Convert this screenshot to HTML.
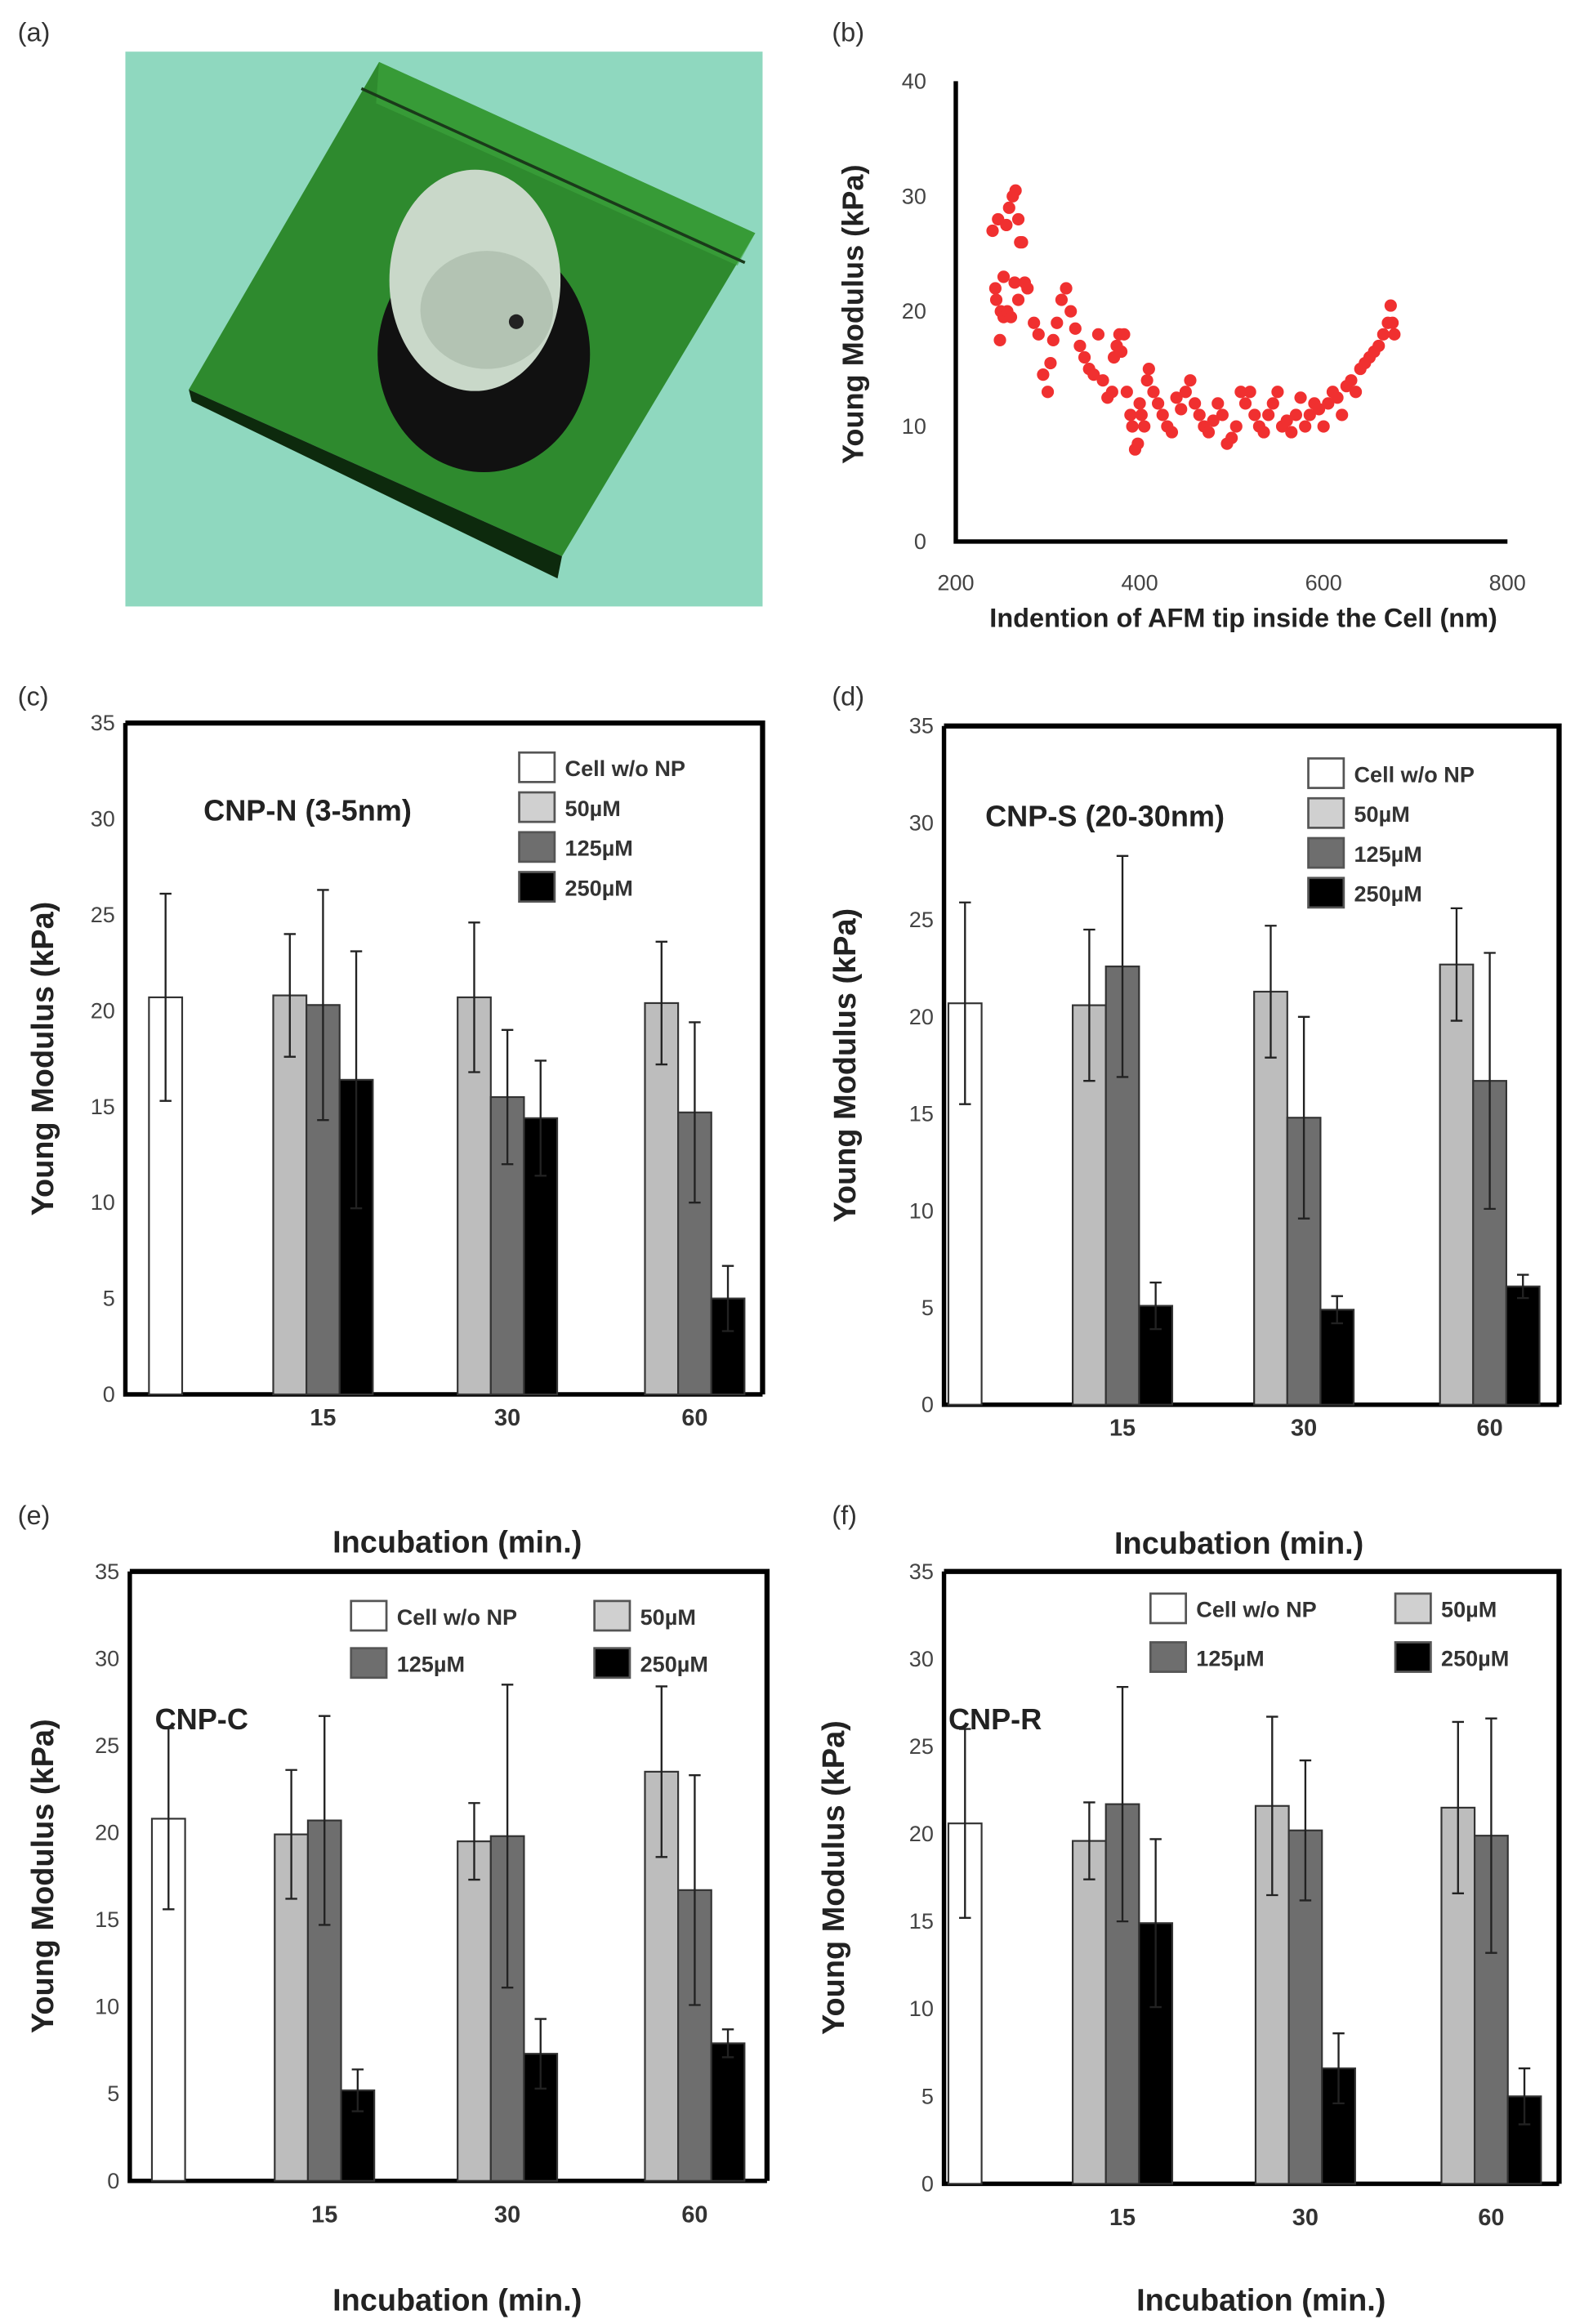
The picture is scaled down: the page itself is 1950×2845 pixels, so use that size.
<!DOCTYPE html>
<html><head><meta charset="utf-8"><style>
html,body{margin:0;padding:0;background:#fff;}
svg{display:block;font-family:"Liberation Sans",sans-serif;}
.tick{font-size:15px;fill:#444;}
.bold{font-weight:bold;fill:#222;}
</style></head><body>
<svg id="fig" width="1950" height="2845" viewBox="0 0 1080 1575" preserveAspectRatio="none" xmlns="http://www.w3.org/2000/svg">
<g>
<text x="12" y="28" font-size="18" fill="#333">(a)</text>
<rect x="85" y="35" width="432" height="376" fill="#8fd8bf"/>
<polygon points="257,42 512,158 381,377 128,264" fill="#2e8a2e"/>
<polygon points="257,42 512,158 500,180 255,70" fill="#3da63d" opacity="0.6"/>
<path d="M245,60 L505,178" stroke="#1a3a1a" stroke-width="2" fill="none"/>
<polygon points="128,264 381,377 378,392 130,272" fill="#0d2a0d"/>
<ellipse cx="328" cy="240" rx="72" ry="80" fill="#111"/>
<ellipse cx="322" cy="190" rx="58" ry="75" fill="#c9d8c9"/>
<ellipse cx="330" cy="210" rx="45" ry="40" fill="#a9bba9" opacity="0.7"/>
<circle cx="350" cy="218" r="5" fill="#222"/>
</g>
<g>
<text x="564" y="28" font-size="18" fill="#333">(b)</text>
<g id="b"></g>
</g>
<g id="c"></g><g id="d"></g><g id="e"></g><g id="f"></g>
</svg>
<script>
const NS="http://www.w3.org/2000/svg";
function mk(p,t,a,txt){const e=document.createElementNS(NS,t);for(const k in a)e.setAttribute(k,a[k]);if(txt!==undefined)e.textContent=txt;p.appendChild(e);return e;}

// Panel b data
const bX=[240,243,246,249,252,255,258,262,265,268,270,272,275,278,244,248,252,256,260,264,268,285,290,295,300,303,306,310,315,320,325,330,335,340,345,350,355,360,365,370,372,375,378,380,383,386,390,392,395,398,400,402,405,408,410,415,420,425,430,435,440,445,450,455,460,465,470,475,480,485,490,495,500,505,510,515,520,525,530,535,540,545,550,555,560,565,570,575,580,585,590,595,600,605,610,615,620,625,630,635,640,645,650,655,660,665,670,673,675,677];
const bY=[27,22,28,20,19.5,27.5,29,30,30.5,28,26,26,22.5,22,21,17.5,23,20,19.5,22.5,21,19,18,14.5,13,15.5,17.5,19,21,22,20,18.5,17,16,15,14.5,18,14,12.5,13,16,17,18,16.5,18,13,11,10,8,8.5,12,11,10,14,15,13,12,11,10,9.5,12.5,11.5,13,14,12,11,10,9.5,10.5,12,11,8.5,9,10,13,12,13,11,10,9.5,11,12,13,10,10.5,9.5,11,12.5,10,11,12,11.5,10,12,13,12.5,11,13.5,14,13,15,15.5,16,16.5,17,18,19,20.5,19,18];
const bXTicks=[200,400,600,800];
const bYTicks=[0,10,20,30,40];
(function(){
 const g=document.getElementById('b');
 const sx=v=>648+(v-200)*(1022-648)/600, sy=v=>367-v*(367-55)/40;
 const ax=mk(g,'path',{d:`M${sx(200)},${sy(40)} L${sx(200)},${sy(0)} L${sx(800)},${sy(0)}`,stroke:'#000','stroke-width':3,fill:'none'});
 
 
 bYTicks.forEach(v=>{const t=mk(g,'text',{x:628,y:sy(v)+5,'text-anchor':'end',class:'tick'},v);
  
  });
 bXTicks.forEach(v=>{const t=mk(g,'text',{x:sx(v),y:400,'text-anchor':'middle',class:'tick'},v);
  
  });
 const xt=mk(g,'text',{x:843,y:425,'text-anchor':'middle','font-size':18,class:'bold'},'Indention of AFM tip inside the Cell (nm)');
 
 
 const yt=mk(g,'text',{x:0,y:0,transform:'translate(585,213) rotate(-90)','text-anchor':'middle','font-size':20,class:'bold'},'Young Modulus (kPa)');
 
 
 bX.forEach((x,i)=>{const c=mk(g,'circle',{cx:sx(x),cy:sy(bY[i]),r:4.2,fill:'#f03030'});
  
  });
})();

// Bar chart data
const groups=['15','30','60'];
const cCtrl=[20.7,5.4];
const c50=[20.8,20.7,20.4], c50e=[3.2,3.9,3.2];
const c125=[20.3,15.5,14.7], c125e=[6.0,3.5,4.7];
const c250=[16.4,14.4,5.0], c250e=[6.7,3.0,1.7];
const dCtrl=[20.7,5.2];
const d50=[20.6,21.3,22.7], d50e=[3.9,3.4,2.9];
const d125=[22.6,14.8,16.7], d125e=[5.7,5.2,6.6];
const d250=[5.1,4.9,6.1], d250e=[1.2,0.7,0.6];
const eCtrl=[20.8,5.2];
const e50=[19.9,19.5,23.5], e50e=[3.7,2.2,4.9];
const e125=[20.7,19.8,16.7], e125e=[6.0,8.7,6.6];
const e250=[5.2,7.3,7.9], e250e=[1.2,2.0,0.8];
const fCtrl=[20.6,5.4];
const f50=[19.6,21.6,21.5], f50e=[2.2,5.1,4.9];
const f125=[21.7,20.2,19.9], f125e=[6.7,4.0,6.7];
const f250=[14.9,6.6,5.0], f250e=[4.8,2.0,1.6];
const yTicks=[0,5,10,15,20,25,30,35];

function bar(cfg){
 const g=document.getElementById(cfg.id);
 
 
 const {L,T,R,B}=cfg;
 const sy=v=>B-v*(B-T)/35;
 mk(g,'text',{x:cfg.lx,y:cfg.ly,'font-size':18,fill:'#333'},'('+cfg.id+')');
 const fr=mk(g,'path',{d:`M${L},${T} L${R},${T} L${R},${B}`,stroke:'#000','stroke-width':3.5,fill:'none'});
 
 
 const ax=mk(g,'path',{d:`M${L},${T} L${L},${B} L${R},${B}`,stroke:'#000','stroke-width':3,fill:'none'});
 
 
 yTicks.forEach(v=>{const t=mk(g,'text',{x:L-7,y:sy(v)+5,'text-anchor':'end',class:'tick'},v);
  
  });
 const yt=mk(g,'text',{x:0,y:0,transform:`translate(${cfg.ytx},${(T+B)/2}) rotate(-90)`,'text-anchor':'middle','font-size':21,class:'bold'},'Young Modulus (kPa)');
 
 
 const bw=22.5;
 const drawBar=(x,v,e,fill,name)=>{
  const r=mk(g,'rect',{x:x,y:sy(v),width:bw,height:sy(0)-sy(v),fill:fill,stroke:'#333','stroke-width':1.2});
  
  
  const cx=x+bw/2;
  const eb=mk(g,'path',{d:`M${cx},${sy(v-e)} L${cx},${sy(v+e)} M${cx-4},${sy(v+e)} L${cx+4},${sy(v+e)} M${cx-4},${sy(v-e)} L${cx+4},${sy(v-e)}`,stroke:'#222','stroke-width':1.3,fill:'none'});
  
  
 };
 drawBar(L+cfg.ctrlOff,cfg.ctrl[0],cfg.ctrl[1],'#fff','bar-control');
 groups.forEach((gn,i)=>{
  const c=cfg.gx[i];
  drawBar(c-1.5*bw,cfg.s50[i],cfg.s50e[i],'#bdbdbd','bar-50uM-'+gn);
  drawBar(c-0.5*bw,cfg.s125[i],cfg.s125e[i],'#6e6e6e','bar-125uM-'+gn);
  drawBar(c+0.5*bw,cfg.s250[i],cfg.s250e[i],'#000','bar-250uM-'+gn);
  const t=mk(g,'text',{x:c,y:cfg.xty,'text-anchor':'middle','font-size':16,fill:'#333','font-weight':'bold'},gn);
  
  
 });
 const ti=mk(g,'text',{x:cfg.tx,y:cfg.ty,'font-size':20,class:'bold'},cfg.title);
 
 
 const labs=['Cell w/o NP','50\u00b5M','125\u00b5M','250\u00b5M'], fills=['#fff','#d0d0d0','#6e6e6e','#000'];
 cfg.leg.forEach((p,i)=>{
  const r=mk(g,'rect',{x:p[0],y:p[1],width:24,height:20,fill:fills[i],stroke:'#555','stroke-width':1.5});
  
  
  const t=mk(g,'text',{x:p[0]+31,y:p[1]+16,'font-size':15,fill:'#333','font-weight':'bold'},labs[i]);
  
  
 });
 cfg.inc.forEach(p=>{const t=mk(g,'text',{x:p[0],y:p[1],'text-anchor':'middle','font-size':21,class:'bold'},'Incubation (min.)');
  
  });
}
bar({id:'c',L:85,T:490,R:517,B:945,lx:12,ly:478,ytx:36,ctrlOff:16,ctrl:cCtrl,s50:c50,s50e:c50e,s125:c125,s125e:c125e,s250:c250,s250e:c250e,gx:[219,344,471],xty:966,title:'CNP-N (3-5nm)',tx:138,ty:556,leg:[[352,510],[352,537],[352,564],[352,591]],inc:[[310,1052]]});
bar({id:'d',L:640,T:492,R:1057,B:952,lx:564,ly:478,ytx:580,ctrlOff:3,ctrl:dCtrl,s50:d50,s50e:d50e,s125:d125,s125e:d125e,s250:d250,s250e:d250e,gx:[761,884,1010],xty:973,title:'CNP-S (20-30nm)',tx:668,ty:560,leg:[[887,514],[887,541],[887,568],[887,595]],inc:[[840,1053]]});
bar({id:'e',L:88,T:1065,R:520,B:1478,lx:12,ly:1033,ytx:36,ctrlOff:15,ctrl:eCtrl,s50:e50,s50e:e50e,s125:e125,s125e:e125e,s250:e250,s250e:e250e,gx:[220,344,471],xty:1506,title:'CNP-C',tx:105,ty:1172,leg:[[238,1085],[403,1085],[238,1117],[403,1117]],inc:[[310,1566]]});
bar({id:'f',L:640,T:1065,R:1057,B:1480,lx:564,ly:1033,ytx:572,ctrlOff:3,ctrl:fCtrl,s50:f50,s50e:f50e,s125:f125,s125e:f125e,s250:f250,s250e:f250e,gx:[761,885,1011],xty:1508,title:'CNP-R',tx:643,ty:1172,leg:[[780,1080],[946,1080],[780,1113],[946,1113]],inc:[[855,1566]]});
</script>
</body></html>
